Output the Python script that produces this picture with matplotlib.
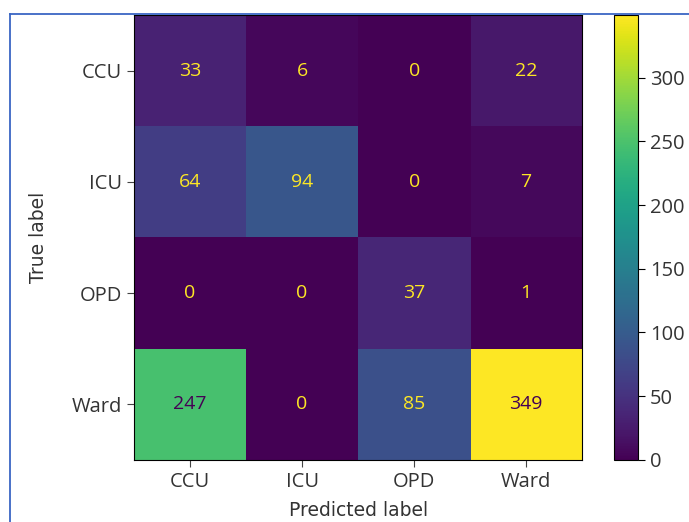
# Confusion matrix of predicted vs true patient location
import numpy as np
import matplotlib
matplotlib.use("Agg")
import matplotlib.pyplot as plt
from matplotlib.lines import Line2D

labels = ["CCU", "ICU", "OPD", "Ward"]
row_ccu = [33, 6, 0, 22]
row_icu = [64, 94, 0, 7]
row_opd = [0, 0, 37, 1]
row_ward = [247, 0, 85, 349]
cbar_ticks = [0, 50, 100, 150, 200, 250, 300]

def run():
    cm = np.array([row_ccu, row_icu, row_opd, row_ward])
    cmap = plt.get_cmap("viridis")
    plt.rcParams["font.family"] = ["Open Sans", "DejaVu Sans"]
    fig = plt.figure(figsize=(6.89, 5.22), dpi=100)
    ax = fig.add_axes([0.1945, 0.119, 0.6505, 0.852])
    cax = fig.add_axes([0.891, 0.119, 0.035, 0.852])

    im = ax.imshow(cm, cmap=cmap, aspect="auto", interpolation="nearest",
                   vmin=cm.min(), vmax=cm.max())
    thresh = (cm.max() + cm.min()) / 2.0
    for i in range(cm.shape[0]):
        for j in range(cm.shape[1]):
            color = cmap(0.0) if cm[i, j] >= thresh else cmap(1.0)
            ax.text(j, i, str(cm[i, j]), ha="center", va="center",
                    color=color, fontsize=14)

    ax.set_xticks(range(len(labels)))
    ax.set_xticklabels(labels, fontsize=14.5)
    ax.set_yticks(range(len(labels)))
    ax.set_yticklabels(labels, fontsize=14.5)
    ax.tick_params(length=5, color="#444444", labelcolor="#333333")
    ax.set_xlabel("Predicted label", fontsize=13.5, family="DejaVu Sans",
                  labelpad=7, color="#333333")
    ax.set_ylabel("True label", fontsize=13.5, family="DejaVu Sans",
                  labelpad=17, color="#333333")

    cb = fig.colorbar(im, cax=cax)
    cb.set_ticks(cbar_ticks)
    cb.ax.tick_params(labelsize=14.5, length=5, labelcolor="#333333")
    cb.outline.set_linewidth(0.8)

    # blue frame around the figure (left and top edge)
    fig.add_artist(Line2D([0.0145, 0.0145], [0.0, 0.973], transform=fig.transFigure,
                          color="#3a66c4", lw=1.3))
    fig.add_artist(Line2D([0.0145, 1.0], [0.973, 0.973], transform=fig.transFigure,
                          color="#3a66c4", lw=1.3))

    fig.savefig("out.png", dpi=100)

if __name__ == "__main__":
    run()
